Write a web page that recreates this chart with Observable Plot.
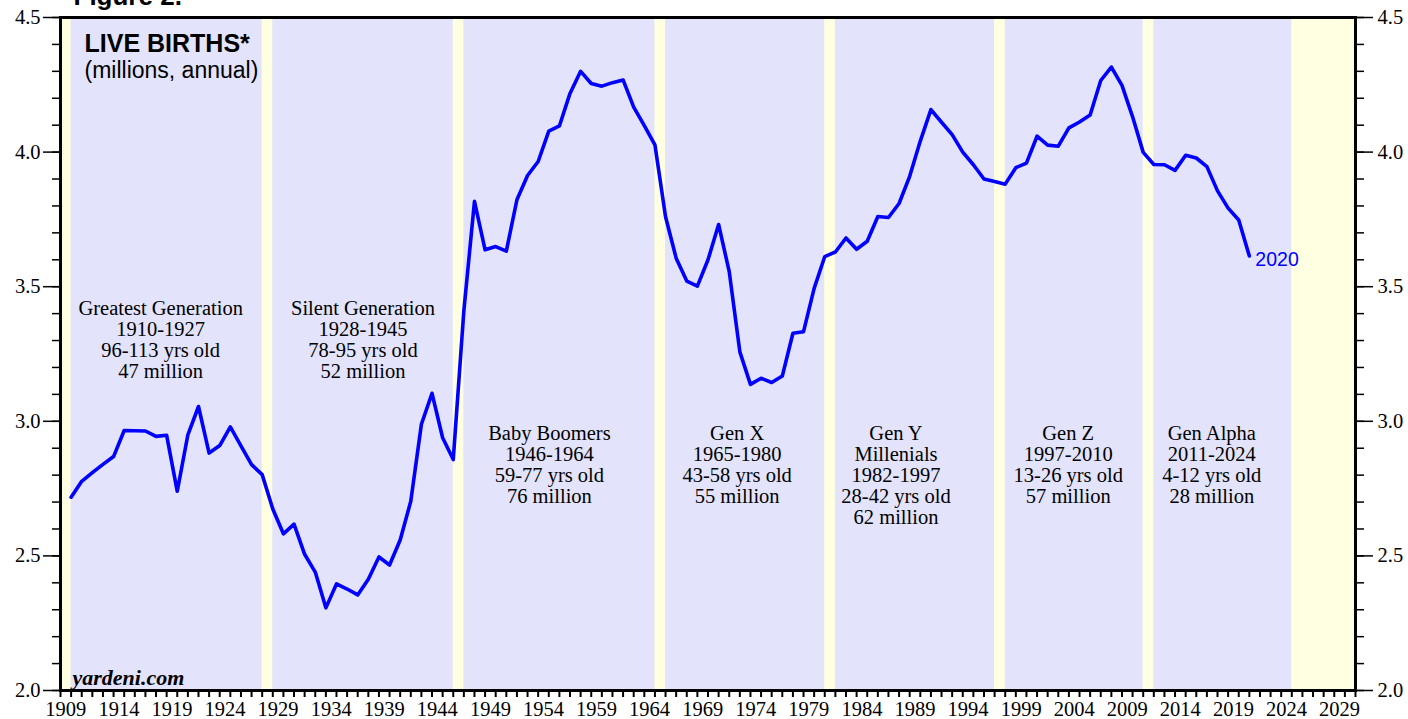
<!DOCTYPE html>
<html><head><meta charset="utf-8">
<script src="https://cdn.jsdelivr.net/npm/d3@7"></script>
<script src="https://cdn.jsdelivr.net/npm/@observablehq/plot@0.6"></script>
<style>body{margin:0;background:#fff;} svg{display:block}</style>
</head><body><div id="chart"></div>
<script>
// Annual live births (millions), 1909-2020
const years = d3.range(1909, 2021);
const births = [
  2.718, 2.777, 2.809, 2.840, 2.869, 2.966, 2.965, 2.964, 2.944, 2.948,
  2.740, 2.950, 3.055, 2.882, 2.910, 2.979, 2.909, 2.839, 2.802, 2.674,
  2.582, 2.618, 2.506, 2.440, 2.307, 2.396, 2.377, 2.355, 2.413, 2.496,
  2.466, 2.559, 2.703, 2.989, 3.104, 2.939, 2.858, 3.411, 3.817, 3.637,
  3.649, 3.632, 3.823, 3.913, 3.965, 4.078, 4.097, 4.218, 4.300, 4.255,
  4.245, 4.258, 4.268, 4.167, 4.098, 4.027, 3.760, 3.606, 3.521, 3.502,
  3.600, 3.731, 3.556, 3.258, 3.137, 3.160, 3.144, 3.168, 3.327, 3.333,
  3.494, 3.612, 3.629, 3.681, 3.639, 3.669, 3.761, 3.757, 3.809, 3.910,
  4.041, 4.158, 4.111, 4.065, 4.000, 3.953, 3.900, 3.891, 3.881, 3.942,
  3.959, 4.059, 4.026, 4.022, 4.090, 4.112, 4.138, 4.266, 4.316, 4.248,
  4.131, 3.999, 3.954, 3.953, 3.932, 3.988, 3.978, 3.946, 3.856, 3.792,
  3.748, 3.614
];

// Generation bands (data years)
const genFrom = [1909, 1928, 1946, 1965, 1981, 1997, 2011];
const genTo   = [1927, 1945, 1964, 1980, 1996, 2010, 2024];
const genNames = ["Greatest Generation", "Silent Generation", "Baby Boomers", "Gen X", "Gen Y\nMillenials", "Gen Z", "Gen Alpha"];
const genSpans = ["1910-1927", "1928-1945", "1946-1964", "1965-1980", "1982-1997", "1997-2010", "2011-2024"];
const genAges  = ["96-113 yrs old", "78-95 yrs old", "59-77 yrs old", "43-58 yrs old", "28-42 yrs old", "13-26 yrs old", "4-12 yrs old"];
const genSizes = ["47 million", "52 million", "76 million", "55 million", "62 million", "57 million", "28 million"];

// Axis ticks
const yMajor = [2.0, 2.5, 3.0, 3.5, 4.0, 4.5];
const yMinor = d3.range(20, 46).map(v => v / 10);
const xLabelYears = d3.range(1909, 2030, 5);
const xTickYears = d3.range(1909, 2032);

const data = years.map((y, i) => ({year: y, value: births[i]}));
const gens = genNames.map((n, i) => ({
  from: genFrom[i], to: genTo[i],
  text: [n, genSpans[i], genAges[i], genSizes[i]].join("\n")
}));

const lavender = "#e3e3fb";
const yellow = "#ffffe1";
const blue = "#0000ff";
const labelShift = [-6, 0, -10, -8, -19, -6, -11];

const axisFont = {fontFamily: "Liberation Serif", fontSize: 20.5};

const chart = Plot.plot({
  width: 1408,
  height: 719,
  marginLeft: 60,
  marginRight: 53,
  marginTop: 17,
  marginBottom: 29,
  style: {fontFamily: "Liberation Serif", fontSize: "20.5px", color: "black", background: "white"},
  x: {domain: [1909, 2031], axis: null},
  y: {domain: [2, 4.5], axis: null},
  marks: [
    Plot.frame({fill: yellow, stroke: null}),
    Plot.rect(gens, {x1: d => d.from + 1, x2: d => d.to + 1, y1: 2, y2: 4.5, fill: lavender}),
    ...gens.map((g, i) => Plot.text([g], {
      x: d => (d.from + d.to + 2) / 2,
      y: i < 2 ? 3.451 : 2.987,
      text: "text", dx: labelShift[i], lineAnchor: "top", lineHeight: 1.03,
      fontFamily: "Liberation Serif", fontSize: 20.5, fill: "black"
    })),
    Plot.line(data, {x: d => d.year + 1, y: "value", stroke: blue, strokeWidth: 3.6, strokeLinejoin: "round"}),
    Plot.text(data.slice(-1), {
      x: d => d.year + 1, y: "value", text: d => String(d.year),
      textAnchor: "start", dx: 6, dy: 4, fill: blue,
      fontFamily: "Liberation Sans", fontSize: 19.5
    }),
    // Titles
    Plot.text(["LIVE BIRTHS*"], {frameAnchor: "top-left", dx: 24, dy: 17, lineAnchor: "top",
      fontFamily: "Liberation Sans", fontWeight: "bold", fontSize: 25, fill: "black"}),
    Plot.text(["(millions, annual)"], {frameAnchor: "top-left", dx: 24, dy: 44, lineAnchor: "top",
      fontFamily: "Liberation Sans", fontSize: 23, fill: "black"}),
    Plot.text(["yardeni.com"], {frameAnchor: "bottom-left", dx: 12, dy: -6, lineAnchor: "bottom",
      fontFamily: "Liberation Serif", fontWeight: "bold", fontStyle: "italic", fontSize: 22, fill: "black"}),
    Plot.text(["Figure 2."], {frameAnchor: "top-left", dx: 13, dy: -13, lineAnchor: "bottom",
      fontFamily: "Liberation Sans", fontWeight: "bold", fontSize: 26, fill: "black"}),
    // Axes
    Plot.axisY({anchor: "left", ticks: yMajor, tickSize: 17, tickPadding: 3, tickFormat: ".1f", strokeWidth: 1.5, label: null, ...axisFont}),
    Plot.axisY({anchor: "left", ticks: yMinor, tickSize: 8, tickFormat: () => "", strokeWidth: 1.5, label: null}),
    Plot.axisY({anchor: "right", ticks: yMajor, tickSize: 17, tickPadding: 5, tickFormat: ".1f", strokeWidth: 1.5, label: null, ...axisFont}),
    Plot.axisY({anchor: "right", ticks: yMinor, tickSize: 8, tickFormat: () => "", strokeWidth: 1.5, label: null}),
    Plot.axisX({anchor: "bottom", ticks: xTickYears, tickSize: 7, tickFormat: () => "", strokeWidth: 2, label: null}),
    Plot.axisX({anchor: "bottom", ticks: xLabelYears.map(y => y + 0.5), tickSize: 0, tickPadding: 11, tickFormat: d => String(d - 0.5), label: null, ...axisFont}),
    Plot.frame({stroke: "black", strokeWidth: 3})
  ]
});
document.getElementById("chart").appendChild(chart);
</script>
</body></html>
